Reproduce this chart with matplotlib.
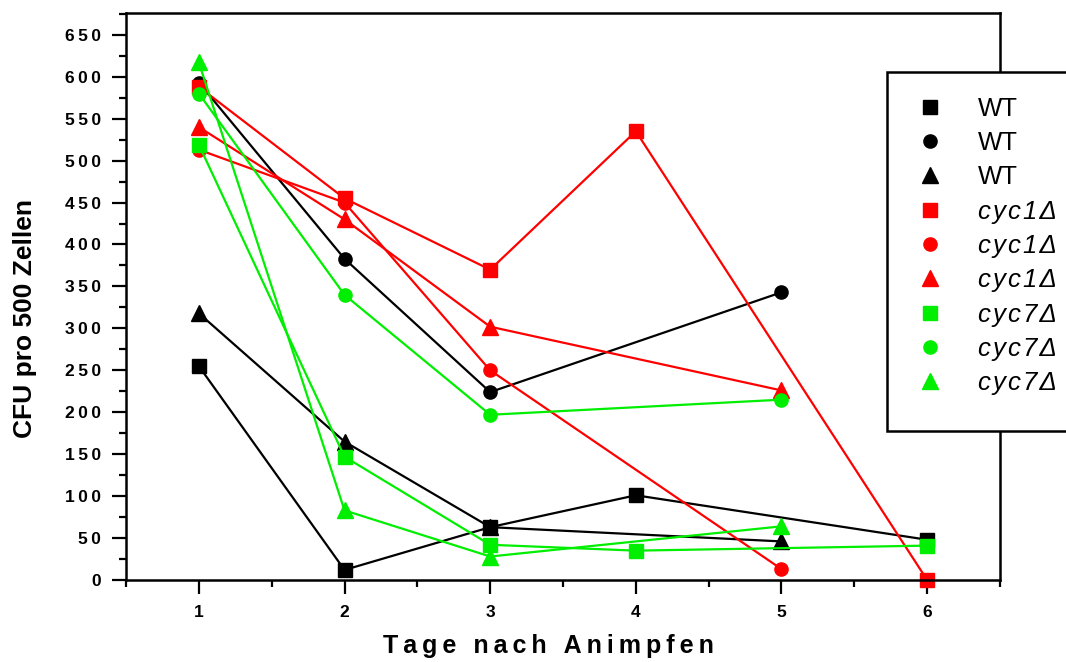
import matplotlib
matplotlib.use("Agg")
import matplotlib.pyplot as plt
from matplotlib.patches import Rectangle
from matplotlib.ticker import MultipleLocator, FuncFormatter

plt.rcParams['font.family'] = ['Liberation Sans', 'DejaVu Sans']

# days after inoculation, CFU per 500 cells
wt_sq_x = [1, 2, 3, 4, 6]
wt_sq_y = [255, 12, 63, 101, 48]
wt_ci_x = [1, 2, 3, 5]
wt_ci_y = [593, 383, 224, 343]
wt_tr_x = [1, 2, 3, 5]
wt_tr_y = [318, 165, 63, 46]

c1_sq_x = [1, 2, 3, 4, 6]
c1_sq_y = [588, 455, 370, 535, 0]
c1_ci_x = [1, 2, 3, 5]
c1_ci_y = [513, 450, 250, 13]
c1_tr_x = [1, 2, 3, 5]
c1_tr_y = [540, 430, 302, 226]

c7_sq_x = [1, 2, 3, 4, 6]
c7_sq_y = [519, 147, 42, 35, 41]
c7_ci_x = [1, 2, 3, 5]
c7_ci_y = [580, 340, 197, 215]
c7_tr_x = [1, 2, 3, 5]
c7_tr_y = [617, 83, 28, 64]

red = '#ff0000'
green = '#00ee00'
TS = '\u2009'  # thin space, for the wide letter spacing of the original
HS = '\u200a'  # hair space

series = [
    (wt_sq_x, wt_sq_y, 'k', 's', 'WT', 'normal'),
    (wt_ci_x, wt_ci_y, 'k', 'o', 'WT', 'normal'),
    (wt_tr_x, wt_tr_y, 'k', '^', 'WT', 'normal'),
    (c1_sq_x, c1_sq_y, red, 's', 'cyc1\u0394', 'italic'),
    (c1_ci_x, c1_ci_y, red, 'o', 'cyc1\u0394', 'italic'),
    (c1_tr_x, c1_tr_y, red, '^', 'cyc1\u0394', 'italic'),
    (c7_sq_x, c7_sq_y, green, 's', 'cyc7\u0394', 'italic'),
    (c7_ci_x, c7_ci_y, green, 'o', 'cyc7\u0394', 'italic'),
    (c7_tr_x, c7_tr_y, green, '^', 'cyc7\u0394', 'italic'),
]

fig = plt.figure(figsize=(10.66, 6.62), dpi=100)
ax = fig.add_axes([126 / 1066, 1 - 580 / 662, 874 / 1066, 567 / 662])

handles = []
for x, y, c, m, lab, st in series:
    ms = 11 if m == '^' else 9.5
    h, = ax.plot(x, y, color=c, lw=1.6, marker=m, ms=ms, mec=c, mfc=c,
                 clip_on=False, label=lab)
    handles.append(h)

ax.set_xlim(0.5, 6.5)
ax.set_ylim(0, 676)
ax.xaxis.set_major_locator(MultipleLocator(1))
ax.xaxis.set_minor_locator(MultipleLocator(0.5))
ax.yaxis.set_major_locator(MultipleLocator(50))
ax.yaxis.set_minor_locator(MultipleLocator(25))
ax.yaxis.set_major_formatter(FuncFormatter(lambda v, p: TS.join(str(int(round(v))))))
ax.tick_params(which='both', direction='out', width=1.6, top=False, right=False)
ax.tick_params(which='major', length=10, labelsize=12.5)
ax.tick_params(which='minor', length=5)
ax.tick_params(axis='x', which='major', pad=8)
ax.tick_params(axis='y', which='major', pad=8)
for lbl in ax.get_xticklabels() + ax.get_yticklabels():
    lbl.set_fontweight('bold')
for sp in ax.spines.values():
    sp.set_linewidth(1.8)

ax.set_xlabel(TS.join('Tage nach Animpfen'), fontsize=18, fontweight='bold')
ax.xaxis.set_label_coords((548 - 126) / 874, -(646 - 580) / 567)
ax.set_ylabel('CFU pro 500 Zellen', fontsize=19, fontweight='bold')
ax.yaxis.set_label_coords(-(126 - 25) / 874, (580 - 319) / 567)
ax.xaxis.label.set_va('center')
ax.yaxis.label.set_va('center')

# legend box sits over the right spine and runs off the figure
box = Rectangle((887 / 1066, 1 - 431 / 662), 200 / 1066, 359 / 662,
                transform=fig.transFigure, fill=True, fc='white', ec='black',
                lw=1.8, zorder=5, clip_on=False)
fig.patches.append(box)

labels = [s[4] if s[5] == 'normal' else HS.join(s[4]) for s in series]
leg = fig.legend(handles, labels, loc='upper left',
                 bbox_to_anchor=(897 / 1066, 1 - 84 / 662), frameon=False,
                 fontsize=18.5, labelspacing=0.4, handletextpad=1.05,
                 handlelength=1.6, borderpad=0, numpoints=1)
leg.set_zorder(6)
for h in leg.legend_handles:
    h.set_linestyle('none')
for t, s in zip(leg.get_texts(), series):
    t.set_fontstyle(s[5])

fig.savefig('out.png', dpi=100)
